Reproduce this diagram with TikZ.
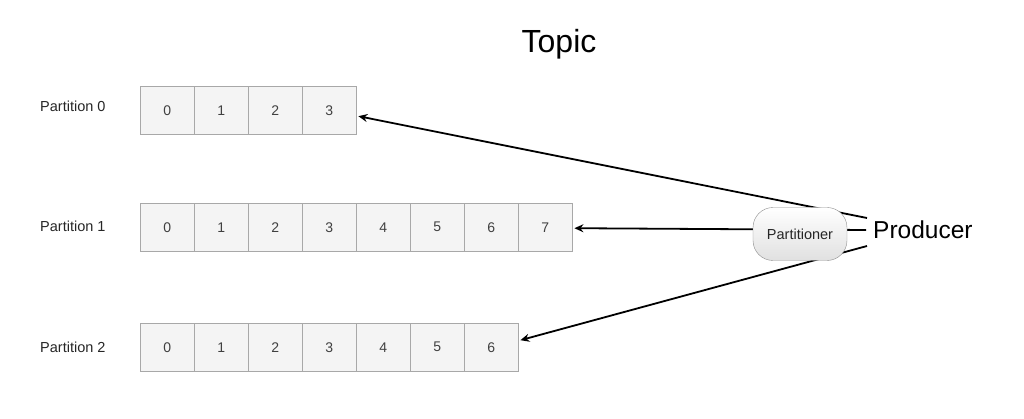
\documentclass[tikz,border=0pt]{standalone}
\usepackage{fontspec}
\setmainfont{Liberation Sans}
\usetikzlibrary{arrows.meta,calc}
\definecolor{cellfill}{HTML}{F4F4F4}
\definecolor{cellline}{HTML}{A8A8A8}
\begin{document}
\begin{tikzpicture}[x=1pt,y=-1pt,
  cell/.style={draw=cellline,fill=cellfill,minimum width=54pt,minimum height=48pt,inner sep=0pt,font=\fontsize{14}{16}\selectfont,text=black!75,anchor=north west},
  plabel/.style={font=\fontsize{14.5}{17}\selectfont,text=black!85,anchor=west,inner sep=0pt},
  conn/.style={line width=1.8pt,-{Stealth[length=9pt,width=8pt,inset=3pt]}}]
\useasboundingbox (0,0) rectangle (1024,419);
\node[font=\fontsize{32}{38}\selectfont] (topic) at (559,44) {Topic};
% rows
\node[plabel] (l0) at (40,106) {Partition 0};
\node[plabel] (l1) at (40,226) {Partition 1};
\node[plabel] (l2) at (40,347) {Partition 2};
\foreach \i in {0,...,3} {\node[cell] (a\i) at (140+54*\i,86) {\i};}
\foreach \i in {0,...,7} {\node[cell] (b\i) at (140+54*\i,203) {\i};}
\foreach \i in {0,...,6} {\node[cell] (c\i) at (140+54*\i,323) {\i};}
% producer
\node[font=\fontsize{24.5}{29}\selectfont,anchor=west,inner sep=0pt] (prod) at (873,230) {Producer};
\coordinate (s1) at ($(prod.west)+(-6,-12)$);
\coordinate (s2) at ($(prod.west)+(-7,0)$);
\coordinate (s3) at ($(prod.west)+(-6,16)$);
\draw[conn] (s1) -- ($(a3.east)+(2,6)$);
\draw[conn] (s2) -- ($(b7.east)+(2,1)$);
\draw[conn] (s3) -- ($(c6.east)+(2,-7)$);
\node[draw=black!45,rounded corners=20pt,top color=white,bottom color=black!12,minimum width=94pt,minimum height=53pt,inner sep=0pt,font=\fontsize{14.5}{17}\selectfont,text=black!85] (part) at (800,234) {Partitioner};
\end{tikzpicture}
\end{document}
